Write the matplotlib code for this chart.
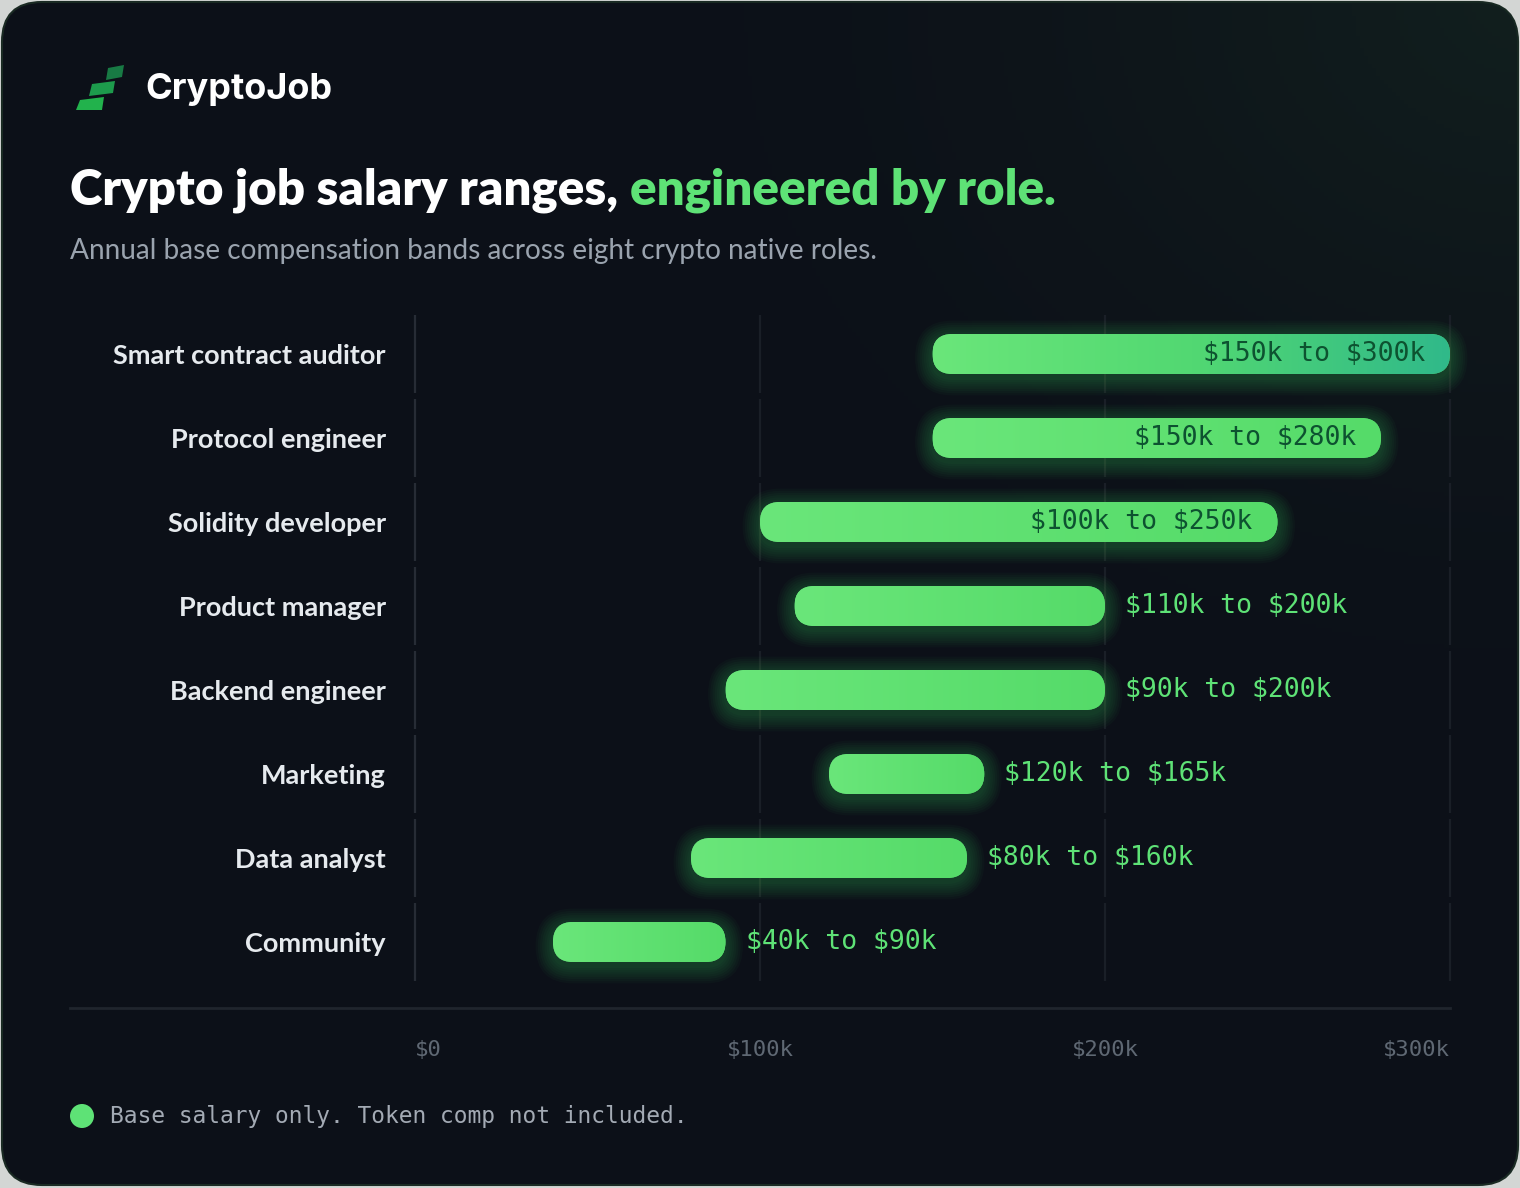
import numpy as np
import matplotlib
matplotlib.use("Agg")
import matplotlib.pyplot as plt
from matplotlib.patches import FancyBboxPatch, Polygon, Circle
from matplotlib.colors import LinearSegmentedColormap

# data
roles = ["Smart contract auditor", "Protocol engineer", "Solidity developer",
         "Product manager", "Backend engineer", "Marketing", "Data analyst", "Community"]
low_k = [150, 150, 100, 110, 90, 120, 80, 40]
high_k = [300, 280, 250, 200, 200, 165, 160, 90]
tick_vals = [0, 100, 200, 300]
tick_labels = [r"\$0", r"\$100k", r"\$200k", r"\$300k"]

W, H = 1520, 1188
BG = "#0c1018"
GREEN = "#5ee276"

fig = plt.figure(figsize=(W / 100, H / 100), dpi=100)
fig.patch.set_facecolor("#d3d6d4")

# background axes in pixel coordinates
bg = fig.add_axes([0, 0, 1, 1])
bg.set_xlim(0, W)
bg.set_ylim(H, 0)
bg.axis("off")

card = FancyBboxPatch((2, 2), W - 4, H - 5, boxstyle="round,pad=0,rounding_size=40",
                      facecolor=BG, edgecolor="#1a2a23", linewidth=1.5)
bg.add_patch(card)
# greenish glow top right
yy, xx = np.mgrid[0:H:4, 0:W:4]
d = np.sqrt((xx - W) ** 2 + (yy * 1.2) ** 2) / 1000
glow = np.clip(1 - d, 0, 1) ** 1.8
rgba = np.zeros(glow.shape + (4,))
rgba[..., :3] = np.array([0.08, 0.15, 0.13])
rgba[..., 3] = glow * 0.7
im = bg.imshow(rgba, extent=[0, W, H, 0], aspect="auto", zorder=1)
im.set_clip_path(card)

# logo
logo = [
    ([(76, 110), (102, 110), (104, 97), (80, 100)], "#22b24c"),
    ([(89, 96), (113, 93), (115, 81), (92, 84)], "#1d9b4c"),
    ([(106, 80), (122, 77), (124, 65), (108, 68)], "#187a44"),
]
for pts, c in logo:
    bg.add_patch(Polygon(pts, closed=True, facecolor=c, edgecolor="none", zorder=3))
bg.text(145, 89, "CryptoJob", color="white", fontsize=26, fontweight="bold",
        family="Inter", va="center", ha="left", zorder=3)

# title
t1 = bg.text(70, 190, "Crypto job salary ranges, ", color="white", fontsize=35.5,
             fontweight="heavy", family="Lato", va="center", ha="left", zorder=3)
fig.canvas.draw()
bb = t1.get_window_extent()
bg.text(bb.x1, 190, "engineered by role.", color=GREEN, fontsize=35.5,
        fontweight="heavy", family="Lato", va="center", ha="left", zorder=3)
bg.text(70, 251, "Annual base compensation bands across eight crypto native roles.",
        color="#9aa3ae", fontsize=20.2, family="Lato", va="center", ha="left", zorder=3)

# baseline and footer
bg.plot([70, 1450], [1008, 1008], color="#20252d", lw=2, zorder=2)
bg.add_patch(Circle((82, 1116), 12, facecolor=GREEN, edgecolor="none", zorder=3))
bg.text(110, 1116, "Base salary only. Token comp not included.", color="#a3aab4",
        fontsize=16.5, family="DejaVu Sans Mono", va="center", ha="left", zorder=3)

# chart axes: x 415..1450 px, rows from 312..984 px
n = len(roles)
ax = fig.add_axes([415 / W, 1 - 984 / H, (1450 - 415) / W, 672 / H])
ax.set_facecolor("none")
ax.set_xlim(0, 300)
ax.set_ylim(n - 0.5, -0.5)
for s in ax.spines.values():
    s.set_visible(False)

px_x = 300 / 1035.0   # x units per pixel
px_y = n / 672.0      # y units per pixel
aspect = px_y / px_x
bar_h = 40 * px_y
rad = 20 * px_x

for i in range(n):
    for tv in tick_vals:
        ax.plot([tv, tv], [i - 0.46, i + 0.46], color="#272c35" if tv == 0 else "#1a1f27",
                lw=1.6, zorder=1, solid_capstyle="butt", clip_on=False)

cmap_std = LinearSegmentedColormap.from_list("g", ["#6ae67a", "#55db69"])
cmap_top = LinearSegmentedColormap.from_list("t", ["#6ae67a", "#52d872", "#30b98a"])
grad = np.linspace(0, 1, 256).reshape(1, -1)

for i, (lo, hi) in enumerate(zip(low_k, high_k)):
    y0 = i - bar_h / 2
    # glow
    for k in range(8):
        pad = (2 + k * 2.2) * px_x
        g = FancyBboxPatch((lo, y0 + 4 * px_y), hi - lo, bar_h,
                           boxstyle=f"round,pad={pad},rounding_size={rad + pad}",
                           mutation_aspect=aspect, facecolor="#3fcf5e",
                           edgecolor="none", alpha=0.035, zorder=2, clip_on=False)
        ax.add_patch(g)
    bar = FancyBboxPatch((lo, y0), hi - lo, bar_h,
                         boxstyle=f"round,pad=0,rounding_size={rad}",
                         mutation_aspect=aspect, facecolor="#5ee276",
                         edgecolor="none", zorder=3, clip_on=False)
    ax.add_patch(bar)
    img = ax.imshow(grad, cmap=cmap_top if i == 0 else cmap_std, aspect="auto",
                    extent=[lo, hi, i + bar_h / 2, y0], zorder=4, interpolation="bicubic")
    img.set_clip_path(bar)
    label = f"\\${lo}k to \\${hi}k"
    if hi - lo >= 130:
        ax.text(hi - 25 * px_x, i, label, color="#0d5230", fontsize=19,
                family="DejaVu Sans Mono", ha="right", va="center", zorder=5)
    else:
        ax.text(hi + 20 * px_x, i, label, color=GREEN, fontsize=19,
                family="DejaVu Sans Mono", ha="left", va="center", zorder=5)

ax.set_xlim(0, 300)
ax.set_ylim(n - 0.5, -0.5)

ax.set_yticks(range(n))
ax.set_yticklabels(roles, fontsize=19.5, fontweight="bold", family="Lato", color="#e6eaee")
ax.tick_params(axis="y", length=0, pad=21)
ax.set_xticks(tick_vals)
ax.set_xticklabels(tick_labels, fontsize=16, family="DejaVu Sans Mono", color="#5f6873")
ax.tick_params(axis="x", length=0, pad=40)
xt = ax.get_xticklabels()
xt[0].set_ha("left")
xt[-1].set_ha("right")

fig.savefig("out.png", dpi=100, facecolor=fig.get_facecolor())
